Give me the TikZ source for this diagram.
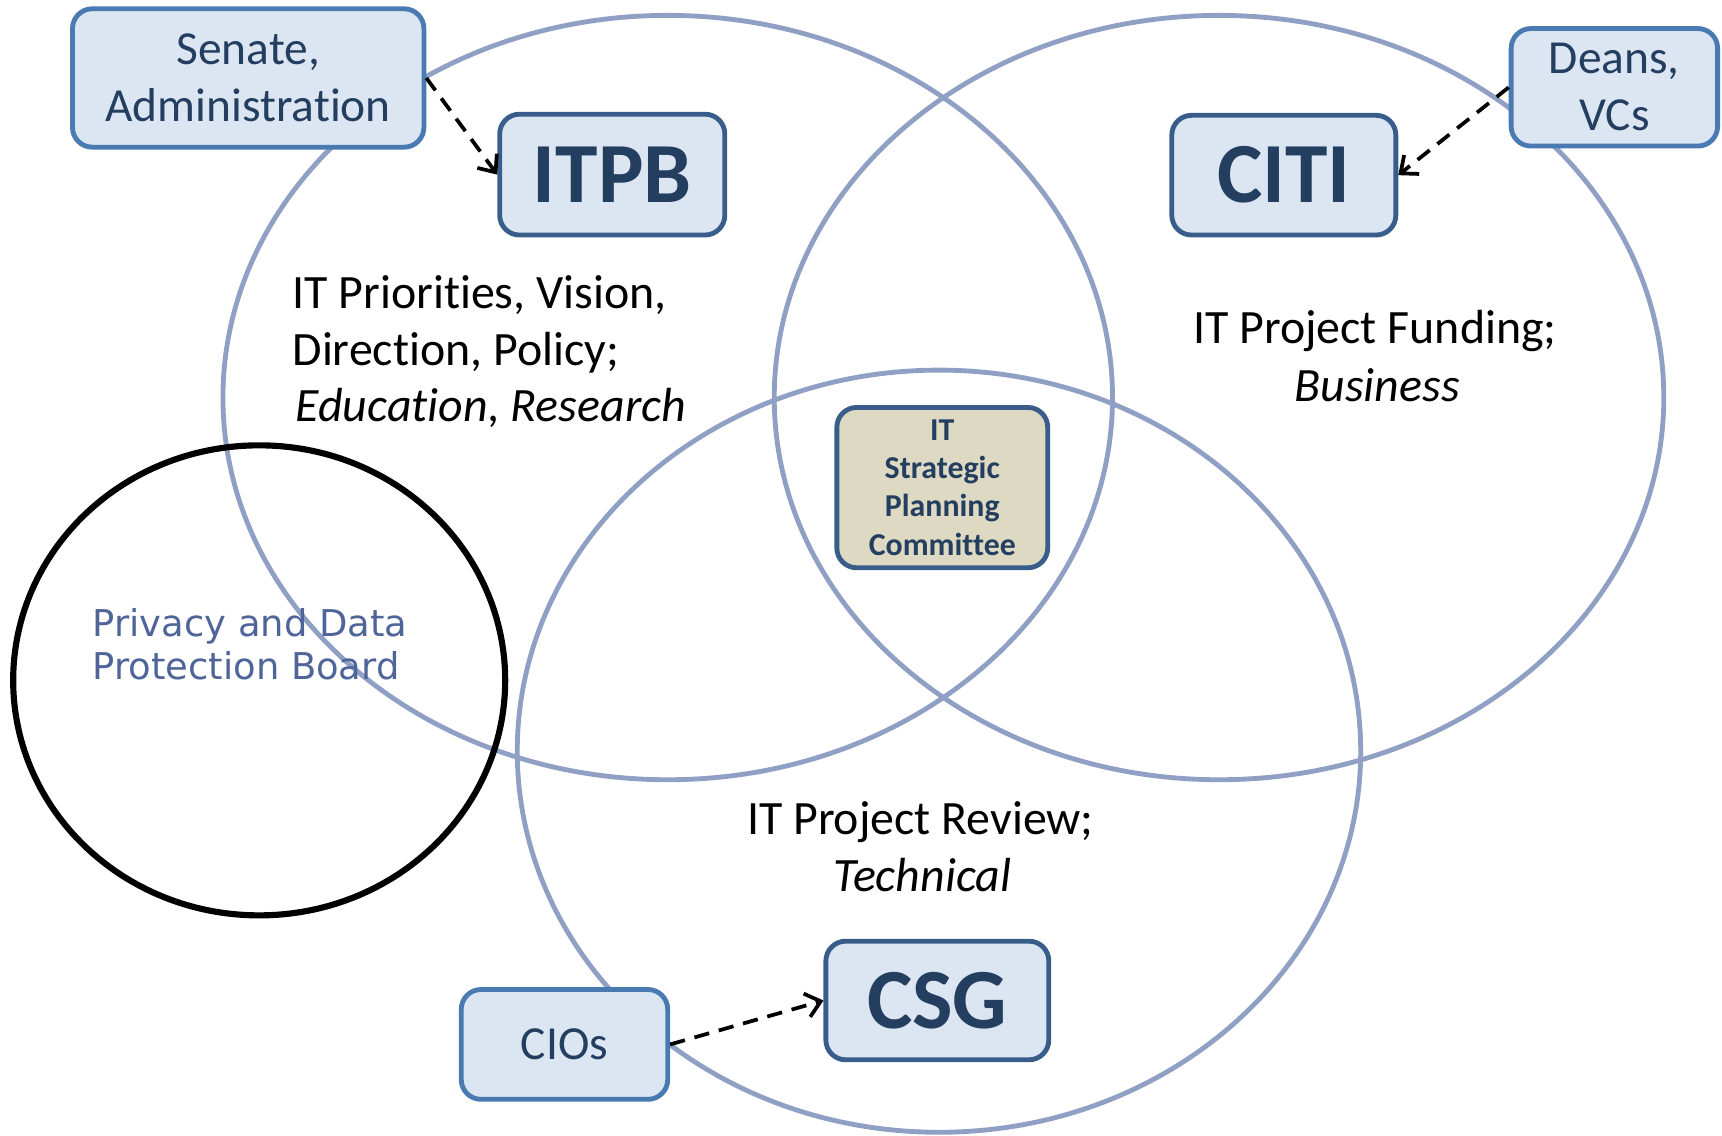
\documentclass[tikz,border=0pt]{standalone}
\usepackage{fontspec}
\setmainfont{Carlito}[Ligatures={NoCommon}]
\newfontfamily\pdpfont{DejaVu Sans}
\usetikzlibrary{arrows.meta}
\definecolor{ell}{RGB}{143,160,196}
\definecolor{boxfill}{RGB}{220,230,242}
\definecolor{bordA}{RGB}{74,122,178}
\definecolor{bordB}{RGB}{56,93,138}
\definecolor{txt}{RGB}{36,62,96}
\definecolor{tanfill}{RGB}{221,217,195}
\definecolor{pdp}{RGB}{79,101,153}
\begin{document}
\begin{tikzpicture}[x=0.5pt,y=-0.5pt,
 venn/.style={draw=ell, line width=2.2pt},
 srcbox/.style={draw=bordA, fill=boxfill, line width=2.2pt, rounded corners=9pt, text=txt, align=center, inner sep=0pt, font=\fontsize{21.6}{26}\selectfont},
 bodybox/.style={draw=bordB, fill=boxfill, line width=2.2pt, rounded corners=9pt, text=txt, inner sep=0pt, font=\bfseries\fontsize{39}{40}\selectfont},
 areatxt/.style={inner sep=0pt, font=\fontsize{21.8}{26}\selectfont, text=black},
 pdptxt/.style={inner sep=0pt, anchor=base west, text=pdp, font=\pdpfont\fontsize{16.8}{20}\selectfont},
 feed/.style={draw=black, line width=1.7pt, dash pattern=on 7pt off 4.5pt, -{Straight Barb[length=6.5pt,width=11pt,line width=1.7pt]}},
]
\useasboundingbox (0,0) rectangle (1568,1034.4);
\fill[white] (0,0) rectangle (1568,1034.4);

% Venn ellipses
\draw[venn] (608,362) ellipse [x radius=405, y radius=348];
\draw[venn] (1110,362) ellipse [x radius=405, y radius=348];
\draw[venn] (855,684) ellipse [x radius=384, y radius=347];
% Privacy circle
\draw[black, line width=2.8pt] (236,619.5) ellipse [x radius=224, y radius=214];

\node[pdptxt] (pdp1) at (84,580) {Privacy and Data};
\node[pdptxt] (pdp2) at (84,619) {Protection Board};

% region texts
\node[areatxt, anchor=base west] (p1) at (266,281) {IT Priorities, Vision,};
\node[areatxt, anchor=base west] (p2) at (266,333) {Direction, Policy;};
\node[areatxt, anchor=base west] (p3) at (269,384) {\itshape Education, Research};
\node[areatxt, anchor=base] (f1) at (1252,313) {IT Project Funding;};
\node[areatxt, anchor=base] (f2) at (1254,366) {\itshape Business};
\node[areatxt, anchor=base] (r1) at (838,760) {IT Project Review;};
\node[areatxt, anchor=base] (r2) at (840,812) {\itshape Technical};

% boxes
\node[srcbox, minimum width=160pt, minimum height=63pt] (senate) at (226,71) {Senate,\\Administration};
\node[bodybox, minimum width=102.5pt, minimum height=55pt] (itpb) at (557.5,159) {ITPB};
\node[bodybox, minimum width=102pt, minimum height=54.5pt] (citi) at (1169,159.5) {CITI};
\node[srcbox, minimum width=94pt, minimum height=53.5pt] (deans) at (1470,79.5) {Deans,\\VCs};
\node[draw=bordB, fill=tanfill, line width=2.2pt, rounded corners=9pt, text=txt, align=center, inner sep=0pt,
      minimum width=96pt, minimum height=73pt, font=\bfseries\fontsize{14.5}{17.4}\selectfont] (itspc) at (858,444) {IT\\Strategic\\Planning\\Committee};
\node[bodybox, minimum width=101.5pt, minimum height=54pt] (csg) at (853.5,911) {CSG};
\node[srcbox, minimum width=94pt, minimum height=50pt] (cios) at (514,951) {CIOs};

% feeds
\draw[feed] (senate.east) -- (itpb.west);
\draw[feed] (deans.west) -- (citi.east);
\draw[feed] (cios.east) -- (csg.west);
\end{tikzpicture}
\end{document}
